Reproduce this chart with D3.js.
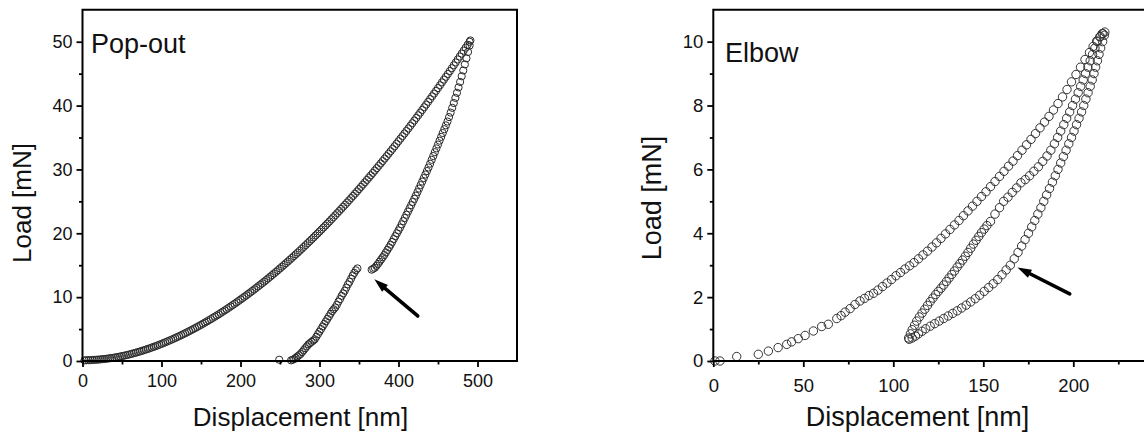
<!DOCTYPE html>
<html><head><meta charset="utf-8">
<script src="https://cdn.jsdelivr.net/npm/d3@7"></script>
<style>
body{margin:0;background:#fff}
svg{display:block}
text{font-family:"Liberation Sans",Arial,Helvetica,sans-serif;fill:#111}
</style>
</head><body>
<svg id="c" width="1144" height="434"></svg>
<script>
// ---------------- DATA ----------------
// Pop-out panel (Displacement nm, Load mN)
const popoutLoading = [
[2.5,0.1],[5,0.12],[7.5,0.13],[10,0.15],[12.5,0.16],[15,0.18],[17.5,0.2],[20,0.22],[22.5,0.25],[25,0.28],
[27.5,0.31],[30,0.35],[32.5,0.39],[35,0.43],[37.5,0.48],[40,0.53],[42.5,0.58],[45,0.64],[47.5,0.7],[50,0.77],
[52.5,0.83],[55,0.9],[57.5,0.97],[60,1.05],[62.5,1.13],[65,1.22],[67.5,1.3],[70,1.39],[72.5,1.48],[75,1.58],
[77.5,1.68],[80,1.78],[82.5,1.88],[85,1.99],[87.5,2.1],[90,2.21],[92.5,2.32],[95,2.44],[97.5,2.56],[100,2.69],
[102.5,2.81],[105,2.94],[107.5,3.07],[110,3.2],[112.5,3.33],[115,3.47],[117.5,3.61],[120,3.76],[122.5,3.9],[125,4.05],
[127.5,4.2],[130,4.35],[132.5,4.51],[135,4.67],[137.5,4.83],[140,4.99],[142.5,5.15],[145,5.32],[147.5,5.49],[150,5.66],
[152.5,5.84],[155,6.02],[157.5,6.2],[160,6.38],[162.5,6.56],[165,6.75],[167.5,6.94],[170,7.13],[172.5,7.32],[175,7.52],
[177.5,7.72],[180,7.92],[182.5,8.12],[185,8.33],[187.5,8.54],[190,8.75],[192.5,8.96],[195,9.18],[197.5,9.4],[200,9.62],
[202.5,9.84],[205,10.06],[207.5,10.29],[210,10.52],[212.5,10.75],[215,10.98],[217.5,11.22],[220,11.46],[222.5,11.7],[225,11.94],
[227.5,12.18],[230,12.43],[232.5,12.68],[235,12.94],[237.5,13.19],[240,13.45],[242.5,13.71],[245,13.97],[247.5,14.23],[250,14.5],
[252.5,14.77],[255,15.04],[257.5,15.31],[260,15.58],[262.5,15.86],[265,16.14],[267.5,16.42],[270,16.7],[272.5,16.98],[275,17.27],
[277.5,17.56],[280,17.86],[282.5,18.15],[285,18.45],[287.5,18.75],[290,19.05],[292.5,19.35],[295,19.66],[297.5,19.96],[300,20.27],
[302.5,20.58],[305,20.9],[307.5,21.21],[310,21.53],[312.5,21.85],[315,22.18],[317.5,22.5],[320,22.83],[322.5,23.16],[325,23.49],
[327.5,23.82],[330,24.16],[332.5,24.49],[335,24.83],[337.5,25.17],[340,25.52],[342.5,25.86],[345,26.21],[347.5,26.56],[350,26.92],
[352.5,27.27],[355,27.63],[357.5,27.99],[360,28.36],[362.5,28.72],[365,29.08],[367.5,29.45],[370,29.82],[372.5,30.19],[375,30.57],
[377.5,30.94],[380,31.32],[382.5,31.7],[385,32.08],[387.5,32.46],[390,32.85],[392.5,33.24],[395,33.63],[397.5,34.02],[400,34.42],
[402.5,34.82],[405,35.22],[407.5,35.62],[410,36.02],[412.5,36.42],[415,36.83],[417.5,37.24],[420,37.66],[422.5,38.07],[425,38.48],
[427.5,38.9],[430,39.32],[432.5,39.74],[435,40.16],[437.5,40.59],[440,41.02],[442.5,41.45],[445,41.88],[447.5,42.31],[450,42.74],
[452.5,43.18],[455,43.63],[457.5,44.07],[460,44.51],[462.5,44.95],[465,45.4],[467.5,45.85],[470,46.31],[472.5,46.76],[475,47.22],
[477.5,47.68],[480,48.14],[482.5,48.6],[485,49.06],[487.5,49.53],[490,50.0]
];
const popoutUnloadUpper = [
[491,50.2],[490,49.4],[488,48.4],[486,47.4],[484,46.45],[482,45.5],[480,44.6],[478,43.7],[476,42.85],[474,42.0],
[472,41.2],[470,40.4],[468,39.65],[466,38.9],[464,38.2],[462,37.5],[460,36.9],[458,36.3],[456,35.7],[454,35.1],
[452,34.5],[450,33.9],[448,33.3],[446,32.7],[444,32.1],[442,31.5],[440,30.9],[438,30.3],[436,29.75],[434,29.2],
[432,28.65],[430,28.1],[428,27.55],[426,27.0],[424,26.45],[422,25.9],[420,25.4],[418,24.9],[416,24.4],[414,23.9],
[412,23.4],[410,22.9],[408,22.4],[406,21.9],[404,21.4],[402,20.9],[400,20.45],[398,20.0],[396,19.55],[394,19.1],
[392,18.65],[390,18.2],[388,17.8],[386,17.4],[384,17.0],[382,16.6],[380,16.25],[378,15.9],[376,15.55],[374,15.2],
[372,14.9],[370,14.6],[368,14.45],[366,14.3]
];
const popoutUnloadLower = [
[348,14.5],[346,14.2],[344,13.8],[342,13.4],[340,12.9],[338,12.4],[336,12.0],[334,11.5],[332,11.0],[330,10.6],
[328,10.2],[326,9.7],[324,9.3],[322,8.8],[320,8.4],[318,8.1],[316,7.8],[314,7.4],[312,7.0],[310,6.6],
[308,6.2],[306,5.8],[304,5.4],[302,5.0],[300,4.6],[298,4.2],[296,3.8],[294,3.4],[292,3.2],[290,3.0],
[288,2.8],[286,2.6],[284,2.3],[282,2.0],[280,1.7],[278,1.4],[276,1.1],[274,0.9],[272,0.7],[270,0.5],
[268,0.3],[266,0.2],[264,0.1],[249,0.2]
];
const popoutXTicks = [0,100,200,300,400,500];
const popoutXMinor = [50,150,250,350,450];
const popoutYTicks = [0,10,20,30,40,50];
const popoutYMinor = [5,15,25,35,45];
const popoutArrow = [[424.3,7.05],[369.4,12.8]]; // tail, tip

// Elbow panel
const elbowLoading = [
[0.9,0],[3.7,0],[13,0.14],[25,0.21],[30.6,0.31],[36,0.42],[40.8,0.52],[43.5,0.6],[47.2,0.7],[51,0.8],
[55.6,0.94],[60.2,1.08],[63.9,1.15],[68.6,1.33],[71,1.42],[73.2,1.53],[76,1.64],[78.7,1.77],[81.5,1.88],[84,1.96],
[86.5,2.05],[89,2.12],[91.5,2.22],[94,2.33],[96.5,2.44],[99,2.55],[101.5,2.67],[104,2.77],[106.5,2.88],[109,2.98],
[111.5,3.08],[114,3.2],[116.5,3.32],[119,3.44],[121.5,3.57],[124,3.7],[126.5,3.84],[129,3.98],[131.5,4.12],[134,4.26],
[136.5,4.4],[139,4.55],[141.5,4.7],[144,4.85],[146.5,5.0],[149,5.15],[151.5,5.3],[154,5.46],[156.5,5.62],[159,5.78],
[161.5,5.94],[164,6.1],[166.5,6.26],[169,6.43],[171.5,6.6],[174,6.77],[176.5,6.94],[179,7.12],[181.5,7.3],[184,7.48],
[186.5,7.66],[189,7.86],[191.5,8.06],[194,8.27],[196.5,8.5],[199,8.74],[201.5,8.97],[204,9.2],[206.5,9.44],[209,9.66],
[211,9.85],[213,10.02],[215,10.16],[216.5,10.25],[217.5,10.3]
];
const elbowUnloading = [
[217.3,10.2],[216.3,10.0],[215.2,9.8],[214.3,9.6],[213.4,9.4],[212.4,9.2],[211.5,9.0],[210.5,8.8],[209.4,8.6],[208.2,8.4],
[207.0,8.2],[205.8,8.0],[204.6,7.8],[203.2,7.6],[201.8,7.4],[200.4,7.2],[199.0,7.0],[197.5,6.8],[196.0,6.6],[194.5,6.4],
[193.0,6.2],[191.5,6.0],[190.0,5.8],[188.4,5.6],[186.8,5.4],[185.2,5.2],[183.6,5.0],[182.0,4.8],[180.3,4.6],[178.6,4.4],
[176.9,4.2],[175.1,4.0],[173.2,3.8],[171.3,3.6],[169.3,3.4],[167.2,3.2],[165.0,3.0],[162.7,2.85],[160.4,2.7],[158.0,2.55],
[155.5,2.42],[153.0,2.3],[150.5,2.18],[148.0,2.06],[145.5,1.95],[143.0,1.85],[140.5,1.75],[138.0,1.66],[135.5,1.57],[133.0,1.49],
[130.5,1.41],[128.0,1.33],[125.5,1.25],[123.0,1.17],[120.5,1.09],[118.0,1.01],[116.0,0.93],[114.0,0.85],[112.3,0.78],[110.5,0.72],
[108.8,0.68]
];
const elbowReloading = [
[108.5,0.72],[109.5,0.85],[110.5,0.98],[111.8,1.12],[113,1.25],[114.5,1.38],[116,1.5],[117.5,1.62],[119,1.74],[120.5,1.86],
[122,1.97],[123.5,2.08],[125,2.18],[126.5,2.28],[128,2.38],[129.5,2.49],[131,2.6],[132.5,2.71],[134,2.82],[135.5,2.94],
[137,3.05],[138.5,3.16],[140,3.28],[141.5,3.4],[143,3.53],[144.5,3.66],[146,3.78],[147.5,3.9],[149,4.02],[150.5,4.13],
[152,4.24],[154,4.37],[156.5,4.6],[159,4.8],[161.3,5.0],[163.7,5.13],[166.1,5.28],[168.5,5.42],[170.9,5.58],[173.3,5.68],
[175.7,5.8],[178.1,5.94],[180.6,6.08],[183,6.25],[185.4,6.42],[187.5,6.6],[189.5,6.8],[191.3,7.0],[193,7.2],[194.7,7.4],
[196.3,7.6],[198,7.8],[199.6,8.0],[201.2,8.2],[202.7,8.4],[204.1,8.6],[205.5,8.8],[206.8,9.0],[208.1,9.2],[209.4,9.4],
[210.7,9.6],[212,9.8],[213.3,10.0],[214.7,10.15],[216,10.25]
];
const elbowXTicks = [0,50,100,150,200];
const elbowXMinor = [25,75,125,175,225];
const elbowYTicks = [0,2,4,6,8,10];
const elbowYMinor = [1,3,5,7,9];
const elbowArrow = [[198,2.1],[169,2.93]];

const xTitle = "Displacement [nm]";
const yTitle = "Load [mN]";

// ---------------- DRAW ----------------
const svg = d3.select("#c");

function panel(cfg){
  const x = d3.scaleLinear().domain(cfg.xDomain).range(cfg.xRange);
  const y = d3.scaleLinear().domain(cfg.yDomain).range(cfg.yRange);
  const g = svg.append("g");

  // data
  cfg.series.forEach(s=>{
    g.append("g").selectAll("circle").data(s).join("circle")
      .attr("cx",d=>x(d[0])).attr("cy",d=>y(d[1])).attr("r",cfg.r)
      .attr("fill","none").attr("stroke",cfg.markStroke).attr("stroke-width",1);
  });

  // frame
  const [x0,x1] = cfg.xRange, [y0,y1] = cfg.yRange;
  g.append("path").attr("d",`M${x0},${y1}H${x1}V${y0}H${x0}Z`)
    .attr("fill","none").attr("stroke","#000").attr("stroke-width",2);

  // axes
  const xa = g.append("g").attr("transform",`translate(0,${y0})`)
    .call(d3.axisBottom(x).tickValues(cfg.xTicks).tickSize(6).tickPadding(cfg.xPad).tickFormat(d3.format("d")));
  const xm = g.append("g").attr("transform",`translate(0,${y0})`)
    .call(d3.axisBottom(x).tickValues(cfg.xMinor).tickSize(3.5).tickFormat(""));
  const ya = g.append("g").attr("transform",`translate(${x0},0)`)
    .call(d3.axisLeft(y).tickValues(cfg.yTicks).tickSize(6).tickPadding(4).tickFormat(d3.format("d")));
  const ym = g.append("g").attr("transform",`translate(${x0},0)`)
    .call(d3.axisLeft(y).tickValues(cfg.yMinor).tickSize(3.5).tickFormat(""));
  [xa,xm,ya,ym].forEach(a=>{
    a.select(".domain").remove();
    a.selectAll("line").attr("stroke","#000").attr("stroke-width",1.8);
    a.selectAll("text").attr("font-size",cfg.tickFont).attr("fill","#111")
      .attr("font-family",'"Liberation Sans",Arial,sans-serif');
  });

  // arrow
  const [t,h] = cfg.arrow;
  const tx=x(t[0]), ty=y(t[1]), hx=x(h[0]), hy=y(h[1]);
  const ang = Math.atan2(hy-ty,hx-tx), L=14, W=4.5;
  const bx = hx - L*Math.cos(ang), by = hy - L*Math.sin(ang);
  g.append("line").attr("x1",tx).attr("y1",ty).attr("x2",bx).attr("y2",by)
    .attr("stroke","#000").attr("stroke-width",3.6).attr("stroke-linecap","round");
  g.append("path").attr("d",`M${hx},${hy}L${bx - W*Math.sin(ang)},${by + W*Math.cos(ang)}L${bx + W*Math.sin(ang)},${by - W*Math.cos(ang)}Z`)
    .attr("fill","#000");

  // titles
  g.append("text").attr("x",cfg.xTitlePos[0]).attr("y",cfg.xTitlePos[1])
    .attr("text-anchor","middle").attr("font-size",cfg.titleFont).text(xTitle);
  g.append("text").attr("transform",`translate(${cfg.yTitlePos[0]},${cfg.yTitlePos[1]}) rotate(-90)`)
    .attr("text-anchor","middle").attr("font-size",cfg.titleFont).text(yTitle);
  g.append("text").attr("x",cfg.labelPos[0]).attr("y",cfg.labelPos[1])
    .attr("font-size",cfg.labelFont).text(cfg.label);
}

panel({
  xDomain:[0,550], xRange:[82.5,517], yDomain:[0,55], yRange:[361,9.8],
  series:[popoutLoading,popoutUnloadUpper,popoutUnloadLower], r:3.6, markStroke:"#2a2a2a",
  xTicks:popoutXTicks, xMinor:popoutXMinor, yTicks:popoutYTicks, yMinor:popoutYMinor,
  xPad:7, tickFont:18, titleFont:26, labelFont:27,
  arrow:popoutArrow,
  xTitlePos:[300.5,426], yTitlePos:[31,203], labelPos:[91,53], label:"Pop-out"
});
panel({
  xDomain:[0,250], xRange:[713.3,1163.3], yDomain:[0,11], yRange:[361,9.7],
  series:[elbowLoading,elbowUnloading,elbowReloading], r:4.2, markStroke:"#333",
  xTicks:elbowXTicks, xMinor:elbowXMinor, yTicks:elbowYTicks, yMinor:elbowYMinor,
  xPad:12, tickFont:18.5, titleFont:27, labelFont:27,
  arrow:elbowArrow,
  xTitlePos:[917.5,426], yTitlePos:[661,198], labelPos:[725,61.5], label:"Elbow"
});
</script>
</body></html>
